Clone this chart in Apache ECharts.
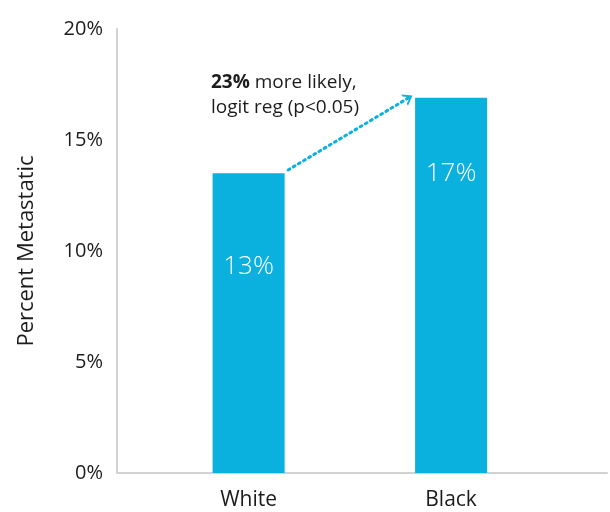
<!DOCTYPE html>
<html>
<head>
<meta charset="utf-8">
<script src="https://cdn.jsdelivr.net/npm/echarts@6/dist/echarts.min.js"></script>
<style>html,body{margin:0;padding:0;background:#fff}#c{width:610px;height:512px}</style>
</head>
<body>
<div id="c"></div>
<script>
var categories = ["White", "Black"];
var categoryPositions = [1, 2];
var values = [13.5, 16.9];
var barLabels = ["13%", "17%"];
var yTicks = [0, 5, 10, 15, 20];
var annotationBold = "23%";
var annotationLine1 = " more likely,";
var annotationLine2 = "logit reg (p<0.05)";

var FONT = "Open Sans";
var BLUE = "#0AB1DF";
var labelDistances = [80, 63];
var chart = echarts.init(document.getElementById('c'));

var barData = categories.map(function (c, i) {
  return {
    value: [categoryPositions[i], values[i]],
    label: { formatter: barLabels[i], distance: labelDistances[i] }
  };
});

chart.setOption({
  animation: false,
  grid: { left: 117, right: 3, top: 29, bottom: 39 },
  xAxis: {
    type: 'value',
    min: 0.35,
    max: 2.77,
    splitLine: { show: false },
    axisLine: { show: true, onZero: false, lineStyle: { color: '#d2d2d2', width: 2 } },
    axisTick: { show: false },
    axisLabel: {
      customValues: categoryPositions,
      formatter: function (v) {
        var i = categoryPositions.indexOf(v);
        return i >= 0 ? categories[i] : '';
      },
      fontFamily: FONT, fontSize: 21, color: '#1c1c1c', margin: 17
    }
  },
  yAxis: {
    type: 'value',
    min: yTicks[0],
    max: yTicks[yTicks.length - 1],
    interval: 5,
    name: 'Percent Metastatic',
    nameLocation: 'middle',
    nameGap: 79,
    nameTextStyle: { fontFamily: FONT, fontSize: 22, color: '#1c1c1c' },
    splitLine: { show: false },
    axisLine: { show: true, lineStyle: { color: '#d2d2d2', width: 2 } },
    axisTick: { show: false },
    axisLabel: { formatter: '{value}%', fontFamily: FONT, fontSize: 20, color: '#1c1c1c', margin: 14, padding: [0, 0, 6, 0] }
  },
  series: [{
    type: 'bar',
    barWidth: 72,
    data: barData,
    itemStyle: { color: BLUE },
    label: {
      show: true,
      position: 'insideTop',
      fontFamily: FONT,
      fontWeight: 300,
      fontSize: 26,
      color: '#fff'
    },
    markLine: {
      silent: true,
      symbol: ['none', 'path://M0,10 L5,0 L10,10 L8.2,10 L5,3.6 L1.8,10 Z'],
      symbolSize: [13, 9],
      label: { show: false },
      lineStyle: { color: BLUE, type: [2, 4], width: 3, cap: 'round' },
      data: [[
        { coord: [categoryPositions[0] + 0.195, values[0] + 0.15] },
        { coord: [categoryPositions[1] - 0.21, values[1]] }
      ]]
    }
  }],
  graphic: [{
    type: 'text',
    left: 211,
    top: 70,
    style: {
      text: '{b|' + annotationBold + '}' + annotationLine1 + '\n' + annotationLine2,
      fontFamily: FONT,
      fontSize: 19,
      lineHeight: 25,
      fill: '#1c1c1c',
      rich: {
        b: { fontFamily: FONT, fontSize: 19, fontWeight: 'bold', fill: '#1c1c1c', lineHeight: 25 }
      }
    }
  }]
});
</script>
</body>
</html>
